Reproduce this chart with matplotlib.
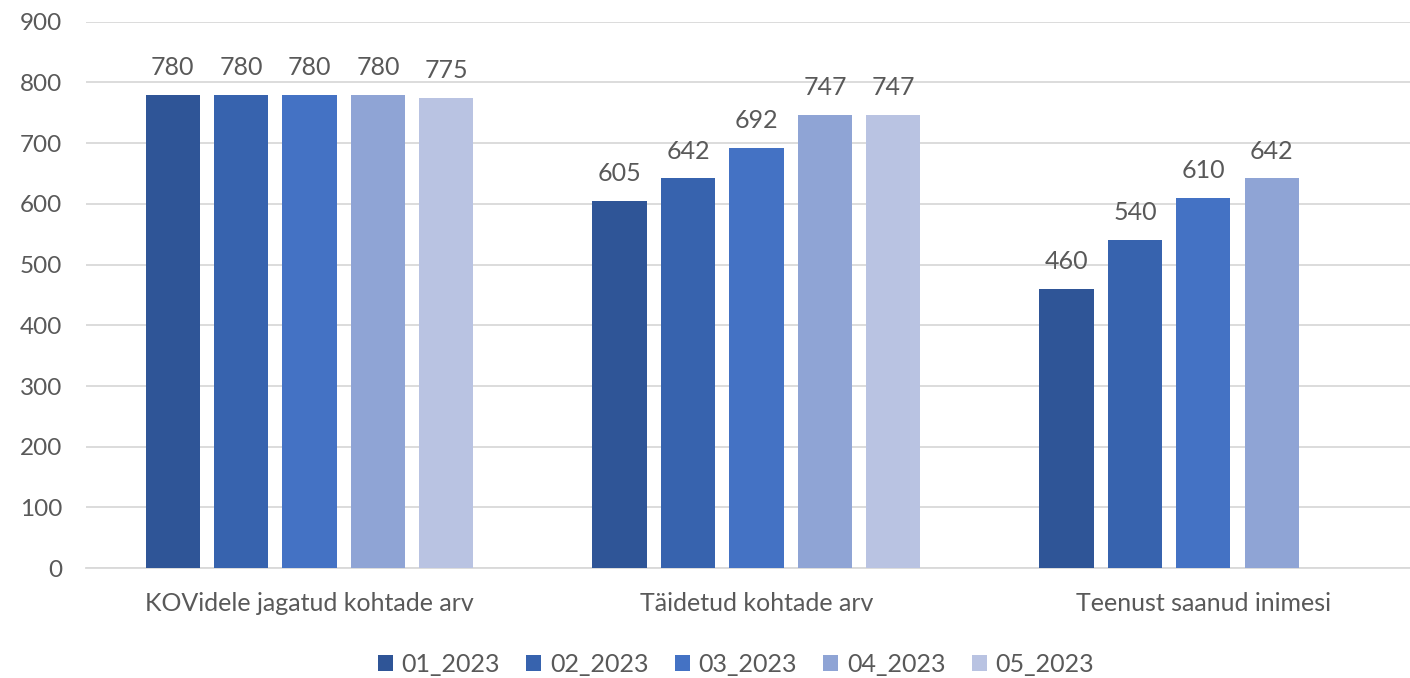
import numpy as np
import matplotlib
matplotlib.use("Agg")
import matplotlib.pyplot as plt

plt.rcParams['font.family'] = ['Lato', 'DejaVu Sans']

categories = ["KOVidele jagatud kohtade arv", "Täidetud kohtade arv", "Teenust saanud inimesi"]
series = ["01_2023", "02_2023", "03_2023", "04_2023", "05_2023"]
values = [
    [780, 605, 460],
    [780, 642, 540],
    [780, 692, 610],
    [780, 747, 642],
    [775, 747, None],
]
colors = ["#2F5597", "#3763AE", "#4472C4", "#8FA4D5", "#B9C3E2"]

fig = plt.figure(figsize=(14.1, 6.78), dpi=100)
# the plot area runs a little past the right edge, as in the reference
ax = fig.add_axes([0.061, 0.162, 0.951, 0.806])

x = np.arange(len(categories))
step = 0.1532
width = 0.121
text_color = "#595959"

for i, (name, vals) in enumerate(zip(series, values)):
    offs = (i - 2) * step
    xs = [xi + offs for xi, v in zip(x, vals) if v is not None]
    ys = [v for v in vals if v is not None]
    bars = ax.bar(xs, ys, width=width, color=colors[i], label=name, zorder=3)
    for b, v in zip(bars, ys):
        ax.text(b.get_x() + b.get_width() / 2, v + 26, str(v), ha='center', va='bottom',
                fontsize=18, color=text_color)

ax.set_xlim(-0.5, 2.5)
ax.set_ylim(0, 900)
ax.set_yticks(range(0, 901, 100))
ax.yaxis.grid(True, color="#D9D9D9", linewidth=1.3, zorder=0)
ax.set_xticks(x)
ax.set_xticklabels(categories, fontsize=18)
ax.tick_params(axis='both', length=0, colors=text_color)
ax.tick_params(axis='y', labelsize=17.5, pad=17)
ax.tick_params(axis='x', pad=17)
for s in ['top', 'right', 'left']:
    ax.spines[s].set_visible(False)
ax.spines['bottom'].set_color("#D9D9D9")
ax.spines['bottom'].set_linewidth(1.3)

leg = fig.legend(loc='center', bbox_to_anchor=(0.522, 0.02), ncol=5, frameon=False,
                 fontsize=18, handlelength=0.6, handleheight=0.6, handletextpad=0.35,
                 columnspacing=1.05)
for t in leg.get_texts():
    t.set_color(text_color)

fig.savefig("out.png", dpi=100)
